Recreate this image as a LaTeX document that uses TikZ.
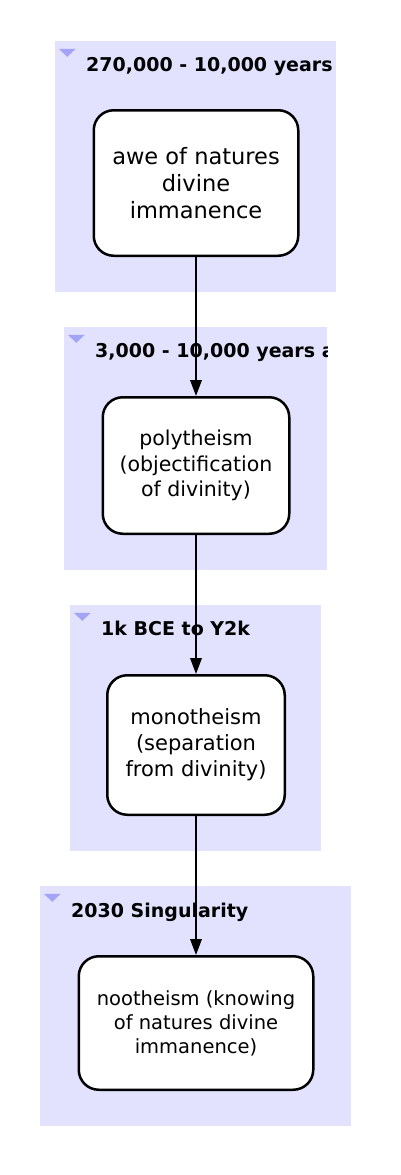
\documentclass[tikz,border=0pt]{standalone}
\usepackage{fontspec}
\setmainfont{DejaVu Sans}
\usetikzlibrary{arrows.meta}
\definecolor{clusterfill}{HTML}{E2E2FF}
\definecolor{foldmark}{HTML}{A4A4F6}
\begin{document}
\begin{tikzpicture}[x=1pt, y=-1pt,
	cluster/.style={fill=clusterfill, draw=none, inner sep=0pt},
	stage/.style={draw, line width=2.5pt, rounded corners=20pt, fill=white, align=center, inner sep=2pt},
	era/.style={anchor=base west, inner sep=0pt, font=\fontsize{19}{22}\selectfont\bfseries},
	link/.style={line width=2pt, -{Triangle[length=16pt, width=11.5pt]}}]
				\useasboundingbox (0,0) rectangle (400,1175);
				% Clusters
				\node[cluster, minimum width=281pt, minimum height=251pt] (c1) at (195.5,166.5) {};
				\node[cluster, minimum width=263pt, minimum height=243pt] (c2) at (195.5,448.5) {};
				\node[cluster, minimum width=251pt, minimum height=246pt] (c3) at (195.5,728) {};
				\node[cluster, minimum width=311pt, minimum height=240pt] (c4) at (195.5,1006) {};

				% Fold marks
				\foreach \c in {c1, c2, c3, c4}
					\fill[foldmark] (\c.north west) ++(4,8) -- ++(17,0) -- ++(-8.5,8) -- cycle;

				% Labels
				\node[era] (l1) at (86,71) {270,000 - 10,000 years};
				\begin{scope}
					\clip (c2.north west) rectangle (c2.south east);
					\node[era] (l2) at (95,357) {3,000 - 10,000 years a};
				\end{scope}
				\node[era] (l3) at (101,635) {1k BCE to Y2k};
				\node[era] (l4) at (71,917) {2030 Singularity};

				% Nodes
				\node[stage, minimum width=204.5pt, minimum height=145.5pt, font=\fontsize{22.5}{27}\selectfont] (awe) at (196,183) {awe of natures\\divine\\immanence};
				\node[stage, minimum width=186.5pt, minimum height=136.5pt, font=\fontsize{20.5}{25.5}\selectfont] (poly) at (196,465.5) {polytheism\\(objectification\\of divinity)};
				\node[stage, minimum width=177.5pt, minimum height=139.5pt, font=\fontsize{21}{26}\selectfont] (mono) at (196,745) {monotheism\\(separation\\from divinity)};
				\node[stage, minimum width=234.5pt, minimum height=133.5pt, font=\fontsize{19.5}{24}\selectfont] (noo) at (196,1023) {nootheism (knowing\\of natures divine\\immanence)};

				% Edges
				\draw[link] (awe) -- (poly);
				\draw[link] (poly) -- (mono);
				\draw[link] (mono) -- (noo);
			\end{tikzpicture}
\end{document}
